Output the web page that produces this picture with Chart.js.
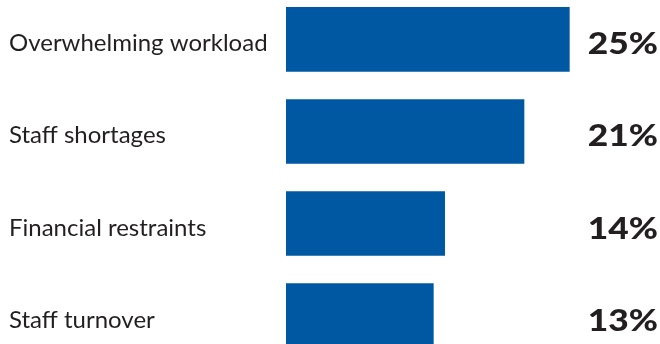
<!DOCTYPE html>
<html>
<head>
<meta charset="utf-8">
<script src="https://cdn.jsdelivr.net/npm/chart.js@4"></script>
<style>
  html, body { margin: 0; padding: 0; background: #fff; overflow: hidden; }
  #chart { position: absolute; left: 0; top: -21px; }
</style>
</head>
<body>
<canvas id="chart" width="660" height="397"></canvas>
<script>
const categories = ["Overwhelming workload", "Staff shortages", "Financial restraints", "Staff turnover"];
const values = [25, 21, 14, 13];
const valueLabels = ["25%", "21%", "14%", "13%"];

// category names (sitting a bit low, as in the print) and the big percentages
const labelPlugin = {
  id: "rowLabels",
  afterDatasetsDraw(chart) {
    const ctx = chart.ctx;
    const yScale = chart.scales.y;
    const bars = chart.getDatasetMeta(0).data;
    ctx.save();
    ctx.fillStyle = "#231f20";
    ctx.textBaseline = "alphabetic";

    ctx.font = "24px Lato";
    ctx.textAlign = "left";
    categories.forEach((c, i) => {
      ctx.fillText(c, yScale.left, yScale.getPixelForTick(i) + 12);
    });

    ctx.font = "900 31px Lato";
    ctx.textAlign = "right";
    bars.forEach((bar, i) => {
      ctx.save();
      ctx.translate(chart.width - 2, bar.y + 15);
      ctx.scale(1.14, 1);
      ctx.fillText(valueLabels[i], 0, 0);
      ctx.restore();
    });
    ctx.restore();
  }
};

new Chart(document.getElementById("chart"), {
  type: "bar",
  data: {
    labels: categories,
    datasets: [{
      data: values,
      backgroundColor: "#0058a3",
      barThickness: 64
    }]
  },
  options: {
    indexAxis: "y",
    responsive: false,
    animation: false,
    layout: { padding: { left: 9, right: 0, top: 0, bottom: 0 } },
    plugins: { legend: { display: false }, tooltip: { enabled: false } },
    scales: {
      x: { display: false, min: 0, max: 33 },
      y: {
        grid: { display: false },
        border: { display: false },
        ticks: {
          crossAlign: "far",
          padding: 0,
          color: "rgba(0,0,0,0)",
          font: { family: "Lato", size: 24 }
        },
        afterFit(scale) { scale.width = 277; }
      }
    }
  },
  plugins: [labelPlugin]
});
</script>
</body>
</html>
